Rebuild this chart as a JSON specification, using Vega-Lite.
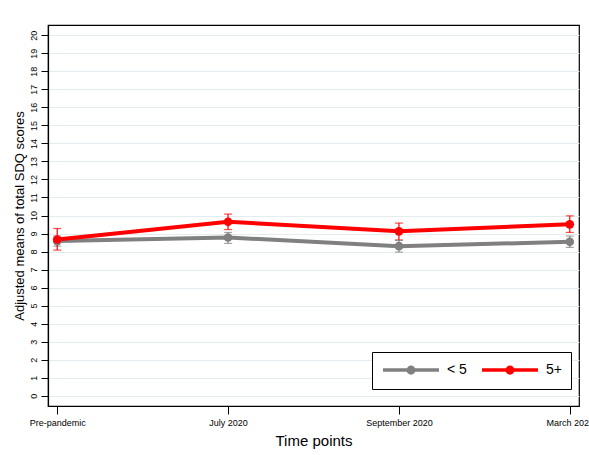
{
  "$schema": "https://vega.github.io/schema/vega-lite/v6.json",
  "width": 531,
  "height": 381,
  "autosize": {"type": "none"},
  "padding": {"left": 48, "top": 25, "right": 10, "bottom": 49},
  "background": "white",
  "config": {
    "font": "Liberation Sans",
    "view": {"stroke": "black", "strokeWidth": 1.2},
    "axis": {"labelFont": "Liberation Sans", "titleFont": "Liberation Sans", "titleFontWeight": "normal", "labelColor": "black", "titleColor": "black", "domainColor": "black", "tickColor": "black"}
  },
  "data": {
    "values": [
      {"time": "Pre-pandemic", "group": "< 5", "mean": 8.58, "lo": 8.3, "hi": 8.86},
      {"time": "July 2020", "group": "< 5", "mean": 8.78, "lo": 8.45, "hi": 9.06},
      {"time": "September 2020", "group": "< 5", "mean": 8.3, "lo": 7.97, "hi": 8.62},
      {"time": "March 2021", "group": "< 5", "mean": 8.54, "lo": 8.23, "hi": 8.86},
      {"time": "Pre-pandemic", "group": "5+", "mean": 8.67, "lo": 8.08, "hi": 9.28},
      {"time": "July 2020", "group": "5+", "mean": 9.65, "lo": 9.22, "hi": 10.08},
      {"time": "September 2020", "group": "5+", "mean": 9.12, "lo": 8.64, "hi": 9.58},
      {"time": "March 2021", "group": "5+", "mean": 9.51, "lo": 9.06, "hi": 9.98}
    ]
  },
  "encoding": {
    "x": {
      "field": "time", "type": "ordinal",
      "sort": ["Pre-pandemic", "July 2020", "September 2020", "March 2021"],
      "scale": {"type": "point", "padding": 0.054},
      "axis": {"title": "Time points", "titleFontSize": 15, "titlePadding": 6, "labelFontSize": 9, "labelAngle": 0, "tickSize": 8, "labelPadding": 4, "grid": false, "domainWidth": 1.2}
    },
    "color": {
      "field": "group", "type": "nominal",
      "scale": {"domain": ["< 5", "5+"], "range": ["#808080", "#ff0000"]},
      "legend": {
        "title": null, "orient": "none", "legendX": 324, "legendY": 327,
        "direction": "horizontal",
        "symbolType": "M-1,0H7M2.6,0A0.4,0.4 0 1,0 3.4,0A0.4,0.4 0 1,0 2.6,0Z",
        "symbolSize": 196, "symbolStrokeWidth": 3.5,
        "labelFontSize": 14, "labelFont": "Liberation Sans", "labelColor": "black", "labelOffset": 48,
        "columnPadding": 8, "padding": 9,
        "strokeColor": "black", "fillColor": "white", "cornerRadius": 0,
        "encode": {"symbols": {"update": {"fill": {"scale": "color", "field": "value"}, "fillOpacity": {"value": 1}}}}
      }
    }
  },
  "layer": [
    {
      "mark": {"type": "line", "strokeWidth": 4},
      "encoding": {
        "y": {
          "field": "mean", "type": "quantitative",
          "scale": {"domain": [-0.57, 20.57], "nice": false, "zero": false},
          "axis": {"title": "Adjusted means of total SDQ scores", "titleFontSize": 13, "titlePadding": 3, "values": [0,1,2,3,4,5,6,7,8,9,10,11,12,13,14,15,16,17,18,19,20], "tickCount": 21, "labelOverlap": false, "labelAngle": -90, "labelFontSize": 9, "tickSize": 7, "labelPadding": 3, "grid": true, "gridColor": "#e3ecee", "gridWidth": 1, "domainWidth": 1.2}
        }
      }
    },
    {
      "mark": {"type": "errorbar", "ticks": {"size": 8, "thickness": 1.2}, "rule": {"strokeWidth": 1.2}},
      "encoding": {
        "y": {"field": "lo", "type": "quantitative", "title": "Adjusted means of total SDQ scores"},
        "y2": {"field": "hi"}
      }
    },
    {
      "mark": {"type": "point", "filled": true, "size": 75, "opacity": 1},
      "encoding": {"y": {"field": "mean", "type": "quantitative"}}
    }
  ]
}
